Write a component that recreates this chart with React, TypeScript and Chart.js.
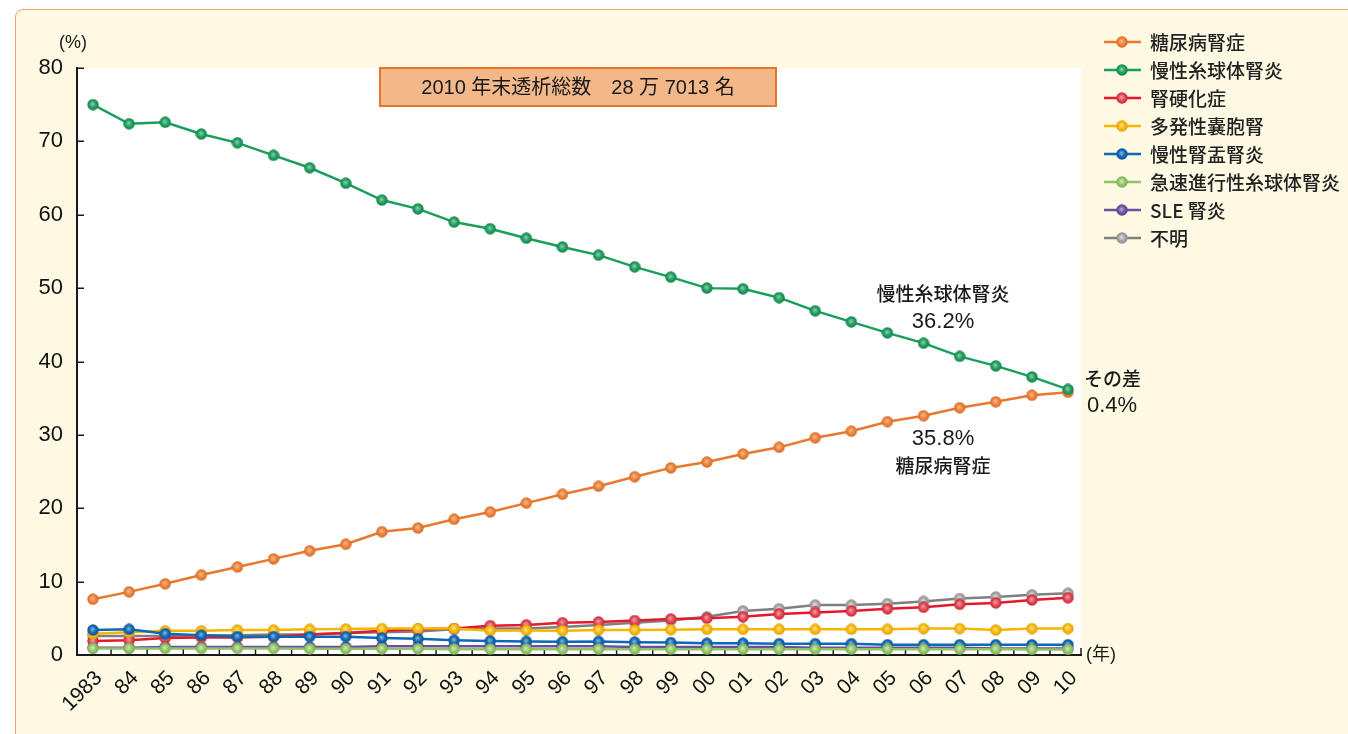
import React, { useEffect, useRef } from 'react';
import { Chart, registerables } from 'chart.js';

Chart.register(...registerables);

const years = [1983, 1984, 1985, 1986, 1987, 1988, 1989, 1990, 1991, 1992, 1993, 1994, 1995, 1996, 1997, 1998, 1999, 2000, 2001, 2002, 2003, 2004, 2005, 2006, 2007, 2008, 2009, 2010];
const yearLabels = ['1983', '84', '85', '86', '87', '88', '89', '90', '91', '92', '93', '94', '95', '96', '97', '98', '99', '00', '01', '02', '03', '04', '05', '06', '07', '08', '09', '10'];

const seriesNames = ['糖尿病腎症', '慢性糸球体腎炎', '腎硬化症', '多発性嚢胞腎', '慢性腎盂腎炎', '急速進行性糸球体腎炎', 'SLE 腎炎', '不明'];

const diabetic = [7.6, 8.6, 9.7, 10.9, 12.0, 13.1, 14.2, 15.1, 16.8, 17.3, 18.5, 19.5, 20.7, 21.9, 23.0, 24.3, 25.5, 26.3, 27.4, 28.3, 29.6, 30.5, 31.8, 32.6, 33.7, 34.5, 35.4, 35.8];
const glomerulo = [75.0, 72.4, 72.6, 71.0, 69.8, 68.1, 66.4, 64.3, 62.0, 60.8, 59.0, 58.1, 56.8, 55.6, 54.5, 52.9, 51.5, 50.0, 49.9, 48.7, 46.9, 45.4, 43.9, 42.5, 40.7, 39.4, 37.9, 36.2];
const nephrosclerosis = [1.9, 2.0, 2.3, 2.4, 2.4, 2.5, 2.8, 3.0, 3.3, 3.5, 3.6, 4.0, 4.1, 4.4, 4.5, 4.7, 4.9, 5.0, 5.2, 5.6, 5.8, 6.0, 6.3, 6.5, 6.9, 7.1, 7.5, 7.8];
const polycystic = [2.9, 3.1, 3.3, 3.3, 3.4, 3.4, 3.5, 3.55, 3.6, 3.6, 3.6, 3.3, 3.35, 3.3, 3.4, 3.4, 3.45, 3.5, 3.5, 3.5, 3.5, 3.5, 3.5, 3.6, 3.6, 3.4, 3.6, 3.6];
const pyelonephritis = [3.4, 3.5, 2.9, 2.7, 2.5, 2.5, 2.5, 2.5, 2.3, 2.2, 2.0, 1.9, 1.85, 1.8, 1.85, 1.75, 1.7, 1.6, 1.6, 1.55, 1.55, 1.55, 1.4, 1.4, 1.4, 1.4, 1.4, 1.4];
const rpgn = [0.9, 0.9, 0.9, 0.9, 0.9, 0.9, 0.85, 0.85, 0.85, 0.85, 0.8, 0.8, 0.8, 0.8, 0.8, 0.8, 0.8, 0.8, 0.8, 0.8, 0.8, 0.8, 0.8, 0.8, 0.8, 0.8, 0.75, 0.75];
const sle = [1.0, 1.0, 1.1, 1.1, 1.1, 1.1, 1.1, 1.1, 1.2, 1.2, 1.2, 1.2, 1.2, 1.2, 1.2, 1.1, 1.1, 1.1, 1.1, 1.1, 1.0, 1.0, 1.0, 1.0, 1.0, 0.9, 0.9, 0.9];
const unknown = [2.6, 2.6, 2.6, 2.7, 2.7, 2.8, 2.8, 3.0, 3.1, 3.2, 3.5, 3.6, 3.6, 3.8, 4.1, 4.4, 4.7, 5.2, 6.0, 6.3, 6.8, 6.8, 7.0, 7.3, 7.7, 7.9, 8.2, 8.4];

const seriesValues = [diabetic, glomerulo, nephrosclerosis, polycystic, pyelonephritis, rpgn, sle, unknown];
const lineColors = ['#E9782E', '#17A05D', '#E6192B', '#F7B500', '#0A6AB6', '#8FC465', '#6B4FA0', '#7F7F7F'];
const pointBase = ['#EC8440', '#259E62', '#E04A58', '#F7B812', '#1668B2', '#96C56C', '#7357A6', '#A5A5A5'];
const pointLight = ['#F8BE8E', '#93D3AE', '#F4A3AB', '#FDE28E', '#8CBDEA', '#D4EBC0', '#BCA8DC', '#E2E2E2'];
const pointRim = ['#D8661E', '#0E8248', '#C8202E', '#E0A000', '#0A5698', '#7AAE50', '#5A3E8C', '#8C8C8C'];
const drawOrder = [6, 3, 5, 4, 2, 1, 7, 8];

const yTicks = [0, 10, 20, 30, 40, 50, 60, 70, 80];
const titleText = '2010 年末透析総数　28 万 7013 名';

const annotations = [
  { text: '慢性糸球体腎炎', x: 943, y: 294, font: '500 19px "Noto Sans CJK JP"', align: 'center' },
  { text: '36.2%', x: 943, y: 322, font: '22px "Liberation Sans"', align: 'center' },
  { text: '35.8%', x: 943, y: 439, font: '22px "Liberation Sans"', align: 'center' },
  { text: '糖尿病腎症', x: 943, y: 466, font: '500 19px "Noto Sans CJK JP"', align: 'center' },
  { text: 'その差', x: 1084, y: 379, font: '500 19px "Noto Sans CJK JP"', align: 'left' },
  { text: '0.4%', x: 1087, y: 406, font: '22px "Liberation Sans"', align: 'left' },
];

function makeSphere(base: string, light: string, rim: string, d = 12) {
  const c = document.createElement('canvas');
  c.width = d;
  c.height = d;
  const g = c.getContext('2d')!;
  const grad = g.createRadialGradient(d * 0.45, d * 0.42, 0, d / 2, d / 2, d / 2);
  grad.addColorStop(0, light);
  grad.addColorStop(0.55, base);
  grad.addColorStop(1, rim);
  g.fillStyle = grad;
  g.beginPath();
  g.arc(d / 2, d / 2, d / 2 - 0.3, 0, Math.PI * 2);
  g.fill();
  return c;
}

export default function App() {
  const canvasRef = useRef<HTMLCanvasElement | null>(null);

  useEffect(() => {
    const canvas = canvasRef.current;
    if (!canvas) return;
    const spheres = seriesNames.map((_, i) => makeSphere(pointBase[i], pointLight[i], pointRim[i]));

    const decor = {
      id: 'decor',
      beforeDraw(chart: any) {
        const { ctx, chartArea: a } = chart;
        ctx.save();
        ctx.fillStyle = '#ffffff';
        ctx.fillRect(a.left, a.top, a.right - a.left, a.bottom - a.top);
        ctx.restore();
      },
      beforeDatasetsDraw(chart: any) {
        const { ctx, chartArea: a } = chart;
        const xs = chart.scales.x;
        const ys = chart.scales.y;
        ctx.save();
        ctx.strokeStyle = '#1a1a1a';
        ctx.lineWidth = 1.5;
        yTicks.forEach((v) => {
          const y = Math.round(ys.getPixelForValue(v)) + 0.25;
          ctx.beginPath();
          ctx.moveTo(a.left, y);
          ctx.lineTo(a.left + 7, y);
          ctx.stroke();
        });
        years.slice(0, -1).forEach((v) => {
          const x = xs.getPixelForValue(v + 0.5);
          ctx.beginPath();
          ctx.moveTo(x, a.bottom);
          ctx.lineTo(x, a.bottom - 7);
          ctx.stroke();
        });
        ctx.beginPath();
        ctx.moveTo(a.right, a.bottom);
        ctx.lineTo(a.right, a.bottom - 7);
        ctx.stroke();
        ctx.restore();
      },
      afterDraw(chart: any) {
        const { ctx, chartArea: a } = chart;
        ctx.save();
        // title box
        ctx.fillStyle = '#F3B88A';
        ctx.strokeStyle = '#E8742A';
        ctx.lineWidth = 2;
        ctx.fillRect(380, 68, 396, 38);
        ctx.strokeRect(380, 68, 396, 38);
        ctx.fillStyle = '#1a1a1a';
        ctx.font = '20px "Liberation Sans", "Noto Sans CJK JP"';
        ctx.textAlign = 'center';
        ctx.textBaseline = 'middle';
        ctx.fillText(titleText, 578, 88);

        // unit labels
        ctx.font = '18px "Liberation Sans", "Noto Sans CJK JP"';
        ctx.fillText('(%)', 73, 43);
        ctx.textAlign = 'left';
        ctx.fillText('(年)', a.right + 5, a.bottom);

        // annotations
        annotations.forEach((t) => {
          ctx.font = t.font;
          ctx.textAlign = t.align as CanvasTextAlign;
          ctx.fillStyle = '#1a1a1a';
          ctx.fillText(t.text, t.x, t.y);
        });

        // legend
        chart.data.datasets.forEach((ds: any, i: number) => {
          const y = 42 + i * 28;
          ctx.strokeStyle = ds.borderColor;
          ctx.lineWidth = 2.5;
          ctx.beginPath();
          ctx.moveTo(1104, y);
          ctx.lineTo(1141, y);
          ctx.stroke();
          const img = spheres[i];
          ctx.drawImage(img, 1122 - img.width / 2, y - img.height / 2);
          ctx.fillStyle = '#222';
          ctx.font = '500 19px "Noto Sans CJK JP"';
          ctx.textAlign = 'left';
          ctx.textBaseline = 'middle';
          ctx.fillText(ds.label, 1150, y + 1);
        });
        ctx.restore();
      },
    };

    const chart = new Chart(canvas, {
      type: 'line',
      data: {
        datasets: seriesNames.map((name, i) => ({
          label: name,
          data: years.map((yr, k) => ({ x: yr, y: seriesValues[i][k] })),
          borderColor: lineColors[i],
          backgroundColor: lineColors[i],
          borderWidth: 2.5,
          pointStyle: spheres[i] as any,
          pointRadius: 6,
          order: drawOrder[i],
          tension: 0,
        })),
      },
      options: {
        responsive: false,
        animation: false,
        events: [],
        layout: { padding: { left: 0, top: 68, right: 267, bottom: 0 } },
        plugins: { legend: { display: false }, tooltip: { enabled: false } },
        scales: {
          x: {
            type: 'linear',
            min: 1982.557,
            max: 2010.36,
            afterBuildTicks: (s: any) => {
              s.ticks = years.map((v) => ({ value: v }));
            },
            afterFit: (s: any) => {
              s.height = 79;
            },
            grid: { drawOnChartArea: false, drawTicks: false },
            border: { display: true, color: '#1a1a1a', width: 2 },
            ticks: {
              autoSkip: false,
              minRotation: 45,
              maxRotation: 45,
              padding: 11,
              labelOffset: 6,
              color: '#111',
              font: { family: '"Liberation Sans"', size: 21 },
              callback: (_v: any, idx: number) => yearLabels[idx],
            },
          },
          y: {
            min: 0,
            max: 80,
            afterBuildTicks: (s: any) => {
              s.ticks = yTicks.map((v) => ({ value: v }));
            },
            afterFit: (s: any) => {
              s.width = 77;
            },
            grid: { drawOnChartArea: false, drawTicks: false },
            border: { display: true, color: '#1a1a1a', width: 2 },
            ticks: {
              padding: 14,
              color: '#111',
              font: { family: '"Liberation Sans"', size: 22 },
            },
          },
        },
      },
      plugins: [decor],
    });

    return () => chart.destroy();
  }, []);

  return (
    <div style={{ position: 'absolute', left: 0, top: 0, width: 1348, height: 734, background: '#fff', overflow: 'hidden' }}>
      <div
        style={{
          position: 'absolute',
          left: 15,
          top: 9,
          width: 1400,
          height: 800,
          border: '1.5px solid #F2A46E',
          borderRadius: 8,
          background: '#FEF9E3',
        }}
      />
      <canvas ref={canvasRef} width={1348} height={734} style={{ position: 'absolute', left: 0, top: 0 }} />
    </div>
  );
}
